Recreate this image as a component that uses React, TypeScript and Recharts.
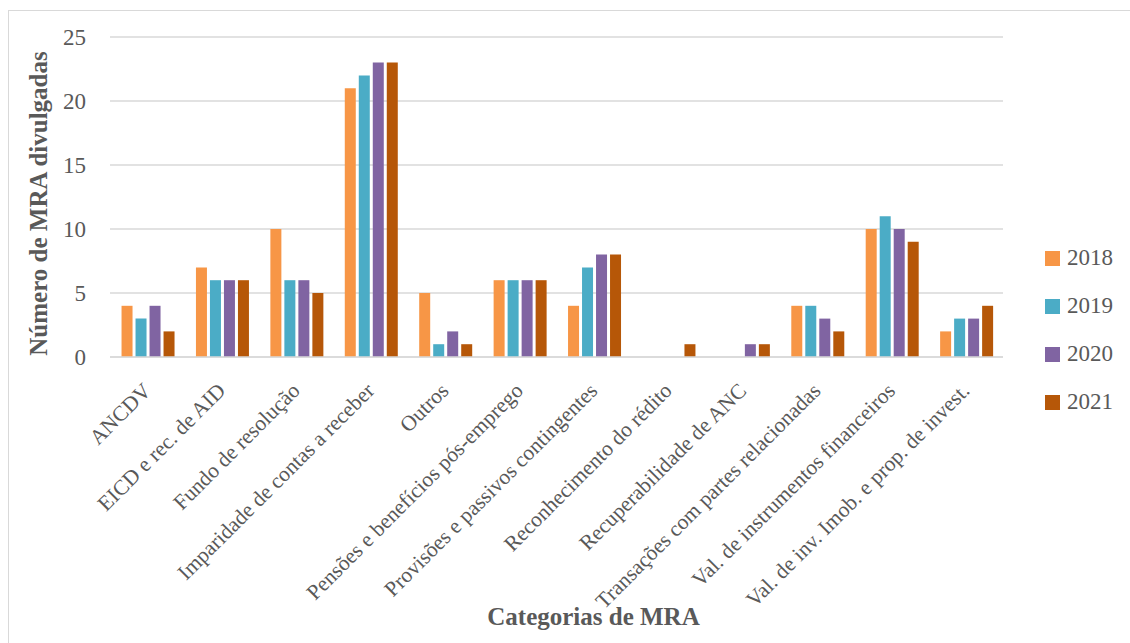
import React from "react";
import { BarChart, Bar, XAxis, YAxis, CartesianGrid, Legend } from "recharts";

const categories = [
  "ANCDV",
  "EICD e rec. de AID",
  "Fundo de resolução",
  "Imparidade de contas a receber",
  "Outros",
  "Pensões e benefícios pós-emprego",
  "Provisões e passivos contingentes",
  "Reconhecimento do rédito",
  "Recuperabilidade de ANC",
  "Transações com partes relacionadas",
  "Val. de instrumentos financeiros",
  "Val. de inv. Imob. e prop. de invest.",
];
const s2018 = [4, 7, 10, 21, 5, 6, 4, 0, 0, 4, 10, 2];
const s2019 = [3, 6, 6, 22, 1, 6, 7, 0, 0, 4, 11, 3];
const s2020 = [4, 6, 6, 23, 2, 6, 8, 0, 1, 3, 10, 3];
const s2021 = [2, 6, 5, 23, 1, 6, 8, 1, 1, 2, 9, 4];
const yTicks = [0, 5, 10, 15, 20, 25];
const seriesNames = ["2018", "2019", "2020", "2021"];
const seriesColors = ["#F79646", "#4BACC6", "#8064A2", "#B65708"];

const data = categories.map((c, i) => ({
  name: c,
  "2018": s2018[i],
  "2019": s2019[i],
  "2020": s2020[i],
  "2021": s2021[i],
}));

const FONT = "'Liberation Serif', 'Times New Roman', serif";
const TEXT = "#595959";

const XTick = (props: any) => {
  const { x, y, payload } = props;
  const tx = x + 5;
  const ty = y + 27;
  return (
    <text
      x={tx}
      y={ty}
      transform={`rotate(-45, ${tx}, ${ty})`}
      textAnchor="end"
      fontFamily={FONT}
      fontSize={21.5}
      fill={TEXT}
    >
      {payload.value}
    </text>
  );
};

const YTick = (props: any) => {
  const { y, payload } = props;
  return (
    <text
      x={77}
      y={y + 8}
      textAnchor="end"
      fontFamily={FONT}
      fontSize={23}
      fill={TEXT}
    >
      {payload.value}
    </text>
  );
};

const LegendContent = () => (
  <div style={{ fontFamily: FONT, fontSize: 23, color: TEXT }}>
    {seriesNames.map((n, i) => (
      <div
        key={n}
        style={{ display: "flex", alignItems: "center", height: 48 }}
      >
        <span
          style={{
            display: "inline-block",
            width: 15,
            height: 15,
            background: seriesColors[i],
            marginRight: 7,
          }}
        />
        <span>{n}</span>
      </div>
    ))}
  </div>
);

export default function App() {
  return (
    <div
      style={{
        position: "fixed",
        left: 8,
        top: 10,
        width: 1200,
        height: 700,
        borderTop: "1px solid #d9d9d9",
        borderLeft: "1px solid #d9d9d9",
        background: "#fff",
      }}
    >
      <BarChart
        width={1100}
        height={620}
        data={data}
        margin={{ top: 26, right: 26, left: 0, bottom: 0 }}
        barCategoryGap="15.5%"
        barGap={3}
      >
        <CartesianGrid vertical={false} stroke="#d9d9d9" strokeWidth={1.5} />
        <XAxis
          dataKey="name"
          interval={0}
          height={274}
          tick={<XTick />}
          tickLine={false}
          axisLine={{ stroke: "#d9d9d9", strokeWidth: 1.5 }}
          label={() => (
            <text
              x={584.5}
              y={614}
              textAnchor="middle"
              fontFamily={FONT}
              fontSize={25}
              fontWeight="bold"
              fill={TEXT}
            >
              Categorias de MRA
            </text>
          )}
        />
        <YAxis
          width={101}
          domain={[0, 25]}
          ticks={yTicks}
          tick={<YTick />}
          axisLine={false}
          tickLine={false}
          label={() => (
            <text
              x={38}
              y={192.5}
              transform="rotate(-90, 38, 192.5)"
              textAnchor="middle"
              fontFamily={FONT}
              fontSize={25}
              fontWeight="bold"
              fill={TEXT}
            >
              Número de MRA divulgadas
            </text>
          )}
        />
        <Legend
          layout="vertical"
          align="right"
          verticalAlign="top"
          content={<LegendContent />}
          wrapperStyle={{ width: 80, left: 1036, top: 223, right: "auto" }}
        />
        {seriesNames.map((n, i) => (
          <Bar
            key={n}
            dataKey={n}
            fill={seriesColors[i]}
            isAnimationActive={false}
          />
        ))}
      </BarChart>
    </div>
  );
}
